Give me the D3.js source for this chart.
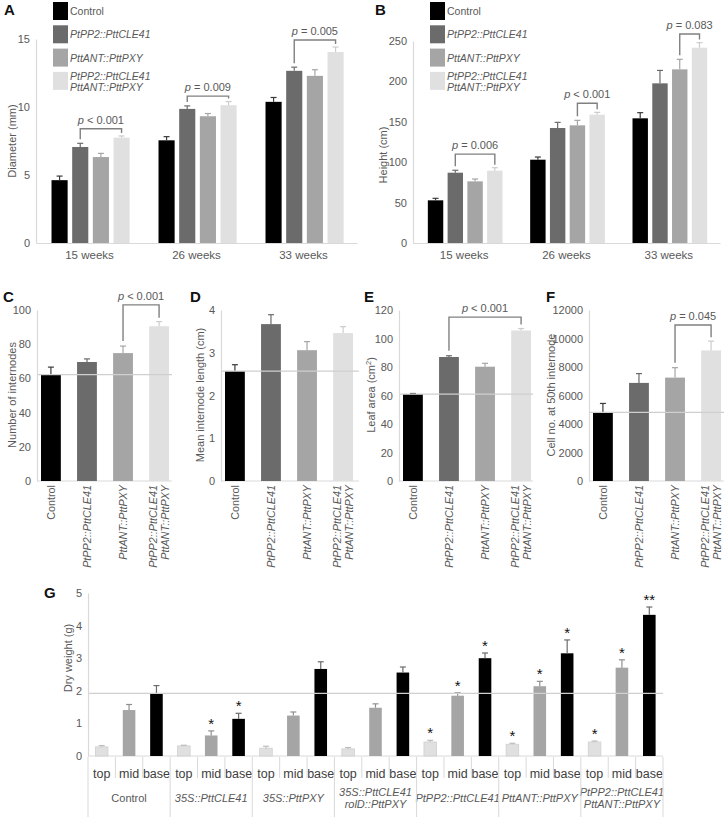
<!DOCTYPE html>
<html><head><meta charset="utf-8">
<script src="https://cdn.jsdelivr.net/npm/d3@7"></script>
<style>
body{margin:0;background:#fff;}
svg{display:block;font-family:"Liberation Sans",Arial,Helvetica,sans-serif;}
</style></head><body>
<svg id="chart" width="726" height="817"></svg>
<script>
// ---------------- DATA ----------------
const weeks = ["15 weeks", "26 weeks", "33 weeks"];
const lines = ["Control", "PtPP2::PttCLE41", "PttANT::PttPXY", "PtPP2::PttCLE41|PttANT::PttPXY"];

const diameter    = [[4.62, 7.06, 6.32, 7.75], [7.55, 9.86, 9.32, 10.13], [10.38, 12.66, 12.29, 14.04]];
const diameterErr = [[0.30, 0.27, 0.27, 0.12], [0.27, 0.22, 0.20, 0.27], [0.32, 0.27, 0.45, 0.37]];
const heightVals  = [[52.8, 87.0, 76.3, 89.5], [103.1, 142.3, 145.6, 158.8], [154.3, 197.6, 214.9, 241.7]];
const heightErr   = [[2.5, 3.0, 2.9, 3.7], [3.3, 7.0, 6.2, 2.9], [7.0, 16.0, 12.4, 6.3]];
const diameterP   = [{g: 0, a: 1, b: 3, y: 8.4, p: "< 0.001"}, {g: 1, a: 1, b: 3, y: 10.8, p: "= 0.009"}, {g: 2, a: 1, b: 3, y: 14.93, p: "= 0.005"}];
const heightP     = [{g: 0, a: 1, b: 3, y: 110, p: "= 0.006"}, {g: 1, a: 2, b: 3, y: 173, p: "< 0.001"}, {g: 2, a: 2, b: 3, y: 258.7, p: "= 0.083"}];

const internodes     = [62.2, 69.6, 74.8, 90.5];
const internodesErr  = [4.4, 1.8, 4.1, 2.7];
const internodeLen   = [2.57, 3.67, 3.06, 3.46];
const internodeLenErr= [0.15, 0.22, 0.20, 0.15];
const leafArea       = [60.9, 87.0, 80.2, 105.6];
const leafAreaErr    = [0.5, 0.9, 2.4, 1.4];
const cellNo         = [4814, 6884, 7256, 9163];
const cellNoErr      = [628, 651, 697, 651];
const internodesP = {a: 2, b: 3, y: 103, p: "< 0.001"};
const leafAreaP   = {a: 1, b: 3, y: 115, p: "< 0.001"};
const cellNoP     = {a: 2, b: 3, y: 10950, p: "= 0.045"};

const gGroups = ["Control", "35S::PttCLE41", "35S::PttPXY", "35S::PttCLE41|rolD::PttPXY", "PtPP2::PttCLE41", "PttANT::PttPXY", "PtPP2::PttCLE41|PttANT::PttPXY"];
const gParts = ["top", "mid", "base"];
const dryWeight = [[0.28, 1.41, 1.92], [0.31, 0.63, 1.14], [0.24, 1.24, 2.67], [0.22, 1.48, 2.56], [0.43, 1.85, 3.00], [0.36, 2.14, 3.15], [0.43, 2.71, 4.33]];
const dryErr    = [[0.04, 0.17, 0.24], [0.02, 0.14, 0.17], [0.06, 0.11, 0.22], [0.04, 0.12, 0.17], [0.05, 0.09, 0.16], [0.03, 0.15, 0.41], [0.03, 0.24, 0.24]];
const dryStars  = [["", "", ""], ["", "*", "*"], ["", "", ""], ["", "", ""], ["*", "*", "*"], ["*", "*", "*"], ["*", "*", "**"]];

// ---------------- STYLE ----------------
const svg = d3.select("#chart");
const TXT = "#595959", AX = "#d9d9d9", BR = "#808080", REF = "#cfcfcf";
const barColors = ["#000000", "#6b6b6b", "#a5a5a5", "#e0e0e0"];
const errColors = ["#3a3a3a", "#6b6b6b", "#a5a5a5", "#cccccc"];
const partColors = ["#e0e0e0", "#a5a5a5", "#000000"];
const partErr = ["#bdbdbd", "#8f8f8f", "#6b6b6b"];

function label(sel, str) {
  sel.text(str).attr("font-style", str === "Control" ? "normal" : "italic");
}
function pText(g, x, y, p) {
  const t = g.append("text").attr("x", x).attr("y", y).attr("text-anchor", "middle")
    .attr("font-size", 11).attr("fill", TXT);
  t.append("tspan").attr("font-style", "italic").text("p");
  t.append("tspan").text(" " + p);
}
function panelLabel(x, y, s) {
  svg.append("text").attr("x", x).attr("y", y).attr("font-size", 15).attr("font-weight", "bold")
    .attr("fill", "#111").text(s);
}
function yTitle(x, y, s, sup) {
  const t = svg.append("text").attr("transform", `translate(${x},${y}) rotate(-90)`)
    .attr("text-anchor", "middle").attr("dy", "0.35em").attr("font-size", 11).attr("fill", TXT).text(s);
  if (sup) {
    t.append("tspan").attr("font-size", 7.5).attr("dy", "-4").text(sup);
    t.append("tspan").attr("dy", "4").text(")");
  }
}
function yAxis(x, y, ticks, fs) {
  const g = svg.append("g").attr("transform", `translate(${x},0)`)
    .call(d3.axisLeft(y).tickValues(ticks).tickSize(0).tickPadding(6).tickFormat(d3.format("d")));
  g.select(".domain").attr("stroke", AX).attr("stroke-width", 1.2);
  g.selectAll("text").attr("fill", TXT).attr("font-size", fs || 11).attr("font-family", null);
  return g;
}
function errBar(g, cx, yTop, yErr, color, cap) {
  g.append("line").attr("x1", cx).attr("x2", cx).attr("y1", yTop).attr("y2", yErr).attr("stroke", color).attr("stroke-width", 1.2);
  g.append("line").attr("x1", cx - cap).attr("x2", cx + cap).attr("y1", yErr).attr("y2", yErr).attr("stroke", color).attr("stroke-width", 1.2);
}
function bracket(g, xa, xb, yTopPx, ya, yb, p) {
  g.append("path").attr("d", `M${xa},${ya}V${yTopPx}H${xb}V${yb}`).attr("fill", "none")
    .attr("stroke", BR).attr("stroke-width", 1.4);
  pText(g, (xa + xb) / 2, yTopPx - 5, p);
}

// ---------------- PANELS A & B ----------------
function grouped(cfg) {
  const g = svg.append("g");
  const x0 = d3.scaleBand().domain(weeks).range([cfg.x0, cfg.x1]);
  const bw = x0.bandwidth();
  const x1 = d3.scaleBand().domain(d3.range(4)).range([bw * 0.145, bw * 0.875]).paddingInner(0.22);
  const y = d3.scaleLinear().domain([0, cfg.max]).range([243, cfg.yTop]);
  yAxis(cfg.x0, y, cfg.ticks);
  const xa = g.append("g").attr("transform", `translate(0,${y(0)})`)
    .call(d3.axisBottom(x0).tickSize(0).tickPadding(8).tickSizeOuter(0));
  xa.select(".domain").attr("stroke", AX).attr("stroke-width", 1.2);
  xa.selectAll("text").attr("fill", TXT).attr("font-size", 11.5).attr("font-family", null);
  weeks.forEach((w, gi) => {
    cfg.vals[gi].forEach((v, i) => {
      const cx = x0(w) + x1(i) + x1.bandwidth() / 2;
      g.append("rect").attr("x", x0(w) + x1(i)).attr("width", x1.bandwidth())
        .attr("y", y(v)).attr("height", y(0) - y(v)).attr("fill", barColors[i]);
      errBar(g, cx, y(v), y(v + cfg.errs[gi][i]), errColors[i], 3);
    });
  });
  cfg.brackets.forEach(b => {
    const w = weeks[b.g];
    const cxa = x0(w) + x1(b.a) + x1.bandwidth() / 2, cxb = x0(w) + x1(b.b) + x1.bandwidth() / 2;
    const ya = y(cfg.vals[b.g][b.a] + cfg.errs[b.g][b.a]) - 4;
    const yb = y(cfg.vals[b.g][b.b] + cfg.errs[b.g][b.b]) - 3;
    bracket(g, cxa, cxb, y(b.y), ya, yb, b.p);
  });
  const lg = svg.append("g");
  lines.forEach((s, i) => {
    const top = 2 + i * 23.3;
    lg.append("rect").attr("x", cfg.legX).attr("y", top).attr("width", 15).attr("height", 18).attr("fill", barColors[i]);
    const parts = s.split("|");
    parts.forEach((p, k) => {
      lg.append("text").attr("x", cfg.legX + 17)
        .attr("y", parts.length === 1 ? top + 13 : top + 8.5 + k * 10.5)
        .attr("font-size", 10.5).attr("fill", TXT).call(label, p);
    });
  });
}
grouped({x0: 36, x1: 357, yTop: 39, max: 15, ticks: [0, 5, 10, 15], vals: diameter, errs: diameterErr, brackets: diameterP, legX: 53});
grouped({x0: 413, x1: 720, yTop: 41, max: 250, ticks: d3.range(0, 251, 50), vals: heightVals, errs: heightErr, brackets: heightP, legX: 430});
panelLabel(4, 15, "A"); panelLabel(375, 15, "B");
yTitle(12, 141, "Diameter (mm)");
yTitle(383, 155, "Height (cm)");

// ---------------- PANELS C-F ----------------
function single(cfg) {
  const g = svg.append("g");
  const x = d3.scaleBand().domain(d3.range(4)).range([cfg.ax + 4, cfg.ax + 132]).paddingInner(0.45).paddingOuter(0);
  const y = d3.scaleLinear().domain([0, cfg.max]).range([481, 310]);
  yAxis(cfg.ax, y, cfg.ticks);
  g.append("line").attr("x1", cfg.ax).attr("x2", cfg.right).attr("y1", y(0)).attr("y2", y(0)).attr("stroke", AX).attr("stroke-width", 1.2);
  cfg.vals.forEach((v, i) => {
    const cx = x(i) + x.bandwidth() / 2;
    g.append("rect").attr("x", x(i)).attr("width", x.bandwidth()).attr("y", y(v)).attr("height", y(0) - y(v)).attr("fill", barColors[i]);
    errBar(g, cx, y(v), y(v + cfg.errs[i]), errColors[i], 3);
    const parts = lines[i].split("|");
    parts.forEach((p, k) => {
      const lx = cx + (parts.length === 1 ? 0 : (k === 0 ? -6 : 6));
      g.append("text").attr("transform", `translate(${lx},485) rotate(-90)`).attr("text-anchor", "end")
        .attr("dy", "0.35em").attr("font-size", 10.8).attr("fill", TXT).call(label, p);
    });
  });
  g.append("line").attr("x1", cfg.ax).attr("x2", cfg.right).attr("y1", y(cfg.vals[0])).attr("y2", y(cfg.vals[0]))
    .attr("stroke", REF).attr("stroke-width", 1.3);
  if (cfg.br) {
    const b = cfg.br;
    const xa = x(b.a) + x.bandwidth() / 2, xb = x(b.b) + x.bandwidth() / 2;
    bracket(g, xa, xb, y(b.y), y(cfg.vals[b.a] + cfg.errs[b.a]) - 5, y(cfg.vals[b.b] + cfg.errs[b.b]) - 4, b.p);
  }
  yTitle(cfg.tx, 395, cfg.title, cfg.sup);
}
single({ax: 37, right: 172, max: 100, ticks: d3.range(0, 101, 20), vals: internodes, errs: internodesErr, br: internodesP, tx: 12, title: "Number of internodes"});
single({ax: 221, right: 359, max: 4, ticks: d3.range(0, 5), vals: internodeLen, errs: internodeLenErr, tx: 200, title: "Mean internode length (cm)"});
single({ax: 399, right: 533, max: 120, ticks: d3.range(0, 121, 20), vals: leafArea, errs: leafAreaErr, br: leafAreaP, tx: 371, title: "Leaf area (cm", sup: "2"});
single({ax: 589, right: 724, max: 12000, ticks: d3.range(0, 12001, 2000), vals: cellNo, errs: cellNoErr, br: cellNoP, tx: 551, title: "Cell no. at 50th internode"});
panelLabel(3, 302, "C"); panelLabel(190, 302, "D"); panelLabel(364, 302, "E"); panelLabel(546, 302, "F");

// ---------------- PANEL G ----------------
(function () {
  const g = svg.append("g");
  const ax = 88, right = 663;
  const xg = d3.scaleBand().domain(d3.range(gGroups.length)).range([ax, right]);
  const xp = d3.scaleBand().domain(gParts).range([0, xg.bandwidth()]);
  const bw = xp.bandwidth() * 0.46;
  const y = d3.scaleLinear().domain([0, 5]).range([756, 593]);
  yAxis(ax, y, d3.range(0, 6));
  g.append("line").attr("x1", ax).attr("x2", right).attr("y1", y(0)).attr("y2", y(0)).attr("stroke", AX).attr("stroke-width", 1.2);
  dryWeight.forEach((vals, gi) => {
    vals.forEach((v, pi) => {
      const cx = xg(gi) + xp(gParts[pi]) + xp.bandwidth() / 2;
      g.append("rect").attr("x", cx - bw / 2).attr("width", bw).attr("y", y(v)).attr("height", y(0) - y(v))
        .attr("fill", partColors[pi]).attr("stroke", pi === 0 ? "#d0d0d0" : "none").attr("stroke-width", 0.8);
      const ye = y(v + dryErr[gi][pi]);
      errBar(g, cx, y(v), ye, partErr[pi], 3);
      if (dryStars[gi][pi]) {
        g.append("text").attr("x", cx).attr("y", ye - 2).attr("text-anchor", "middle")
          .attr("font-size", 15).attr("fill", "#111").text(dryStars[gi][pi]);
      }
      g.append("text").attr("x", cx).attr("y", 778).attr("text-anchor", "middle").attr("font-size", 12.5)
        .attr("fill", "#404040").text(gParts[pi]);
      if (pi > 0) {
        const sx = xg(gi) + xp(gParts[pi]);
        g.append("line").attr("x1", sx).attr("x2", sx).attr("y1", 757).attr("y2", 778).attr("stroke", AX).attr("stroke-width", 1);
      }
    });
    const parts = gGroups[gi].split("|");
    const gc = xg(gi) + xg.bandwidth() / 2;
    parts.forEach((p, k) => {
      g.append("text").attr("x", gc).attr("y", parts.length === 1 ? 802 : 796 + k * 11.5)
        .attr("text-anchor", "middle").attr("font-size", 11).attr("fill", TXT).call(label, p);
    });
  });
  d3.range(gGroups.length + 1).forEach(i => {
    const sx = i < gGroups.length ? xg(i) : right;
    g.append("line").attr("x1", sx).attr("x2", sx).attr("y1", 757).attr("y2", 817).attr("stroke", AX).attr("stroke-width", 1);
  });
  g.append("line").attr("x1", ax).attr("x2", right).attr("y1", y(dryWeight[0][2])).attr("y2", y(dryWeight[0][2]))
    .attr("stroke", REF).attr("stroke-width", 1.3);
  yTitle(68, 658, "Dry weight (g)");
  panelLabel(44, 598, "G");
})();
</script>
</body></html>
